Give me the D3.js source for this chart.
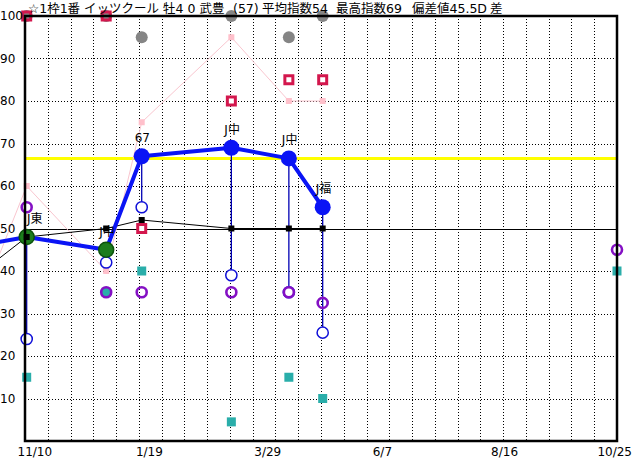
<!DOCTYPE html>
<html><head><meta charset="utf-8">
<script src="https://cdn.jsdelivr.net/npm/d3@7"></script>
<style>body{margin:0;background:#fff}svg{display:block}</style>
</head><body>
<svg id="c" width="632" height="460"></svg>
<script>
// ---------- data ----------
const titleParts = ["☆1枠1番 イッツクール 牡4 0 武豊", "(57)", "平均指数54", "最高指数69", "偏差値45.5D", "差"];
const titleX = [28, 233, 262, 336, 412, 490];
const raceDates = ["2023-10-21", "2023-11-11", "2023-12-28", "2024-01-18", "2024-03-11", "2024-04-14", "2024-05-04"];
const raceLabels = [null, "J東", "J中", "67", "J中", "J中", "J福"];
const courseType = [null, "芝", "芝", "ダ", "ダ", "ダ", "ダ"];
const indexValues = [46.5, 48, 45, 67, 69, 66.5, 55];
const baseValues = [41.5, 48, 50, 52, 50, 50, 50];
const pinkValues = [39, 60, 40, 75, 95, 80, 80];
const redValues = [null, 100, 100, 50, 80, 85, 85];
const greyValues = [null, 100, 100, 95, 100, 95, 100];
const ringValues = [null, 24, 42, 55, 39, 35, 25.5];
const purpleValues = [null, 55, 35, 35, 35, 35, 32.5];
const tealValues = [null, 15, 35, 40, 4.5, 15, 10];
const todayDate = "2024-10-25";
const todayPurple = 45;
const todayTeal = 40;
const refLevel = 66.5;
const midLevel = 50;
const yTicks = [10, 20, 30, 40, 50, 60, 70, 80, 90, 100];
const xTickDates = ["2023-11-10", "2024-01-19", "2024-03-29", "2024-06-07", "2024-08-16", "2024-10-25"];
const xTickLabels = ["11/10", "1/19", "3/29", "6/7", "8/16", "10/25"];
const gridDivisions = 26;

// ---------- setup ----------
const W = 632, H = 460;
const L = 25, R = 617, T = 16, B = 441;
const parse = d3.timeParse("%Y-%m-%d");
const dates = raceDates.map(parse);
const x = d3.scaleTime().domain([parse(xTickDates[0]), parse(xTickDates[xTickDates.length - 1])]).range([L, R]);
const y = d3.scaleLinear().domain([0, 100]).range([B, T]);
const gx = d3.scaleLinear().domain([0, gridDivisions]).range([L, R]);
const mainColor = d3.scaleOrdinal().domain(["芝", "ダ"]).range(["#1c7c1c", "#0a14f5"]);
const svg = d3.select("#c");
svg.append("rect").attr("width", W).attr("height", H).attr("fill", "#fff");
const idx = d3.range(raceDates.length);
const drawn = idx.filter(i => i > 0);

// grid
const grid = svg.append("g").attr("stroke", "#000").attr("stroke-width", 1).attr("stroke-dasharray", "1,2").attr("shape-rendering", "crispEdges");
grid.selectAll("line.h").data(yTicks.filter(v => v !== 100 && v !== midLevel)).join("line")
  .attr("x1", L).attr("x2", R).attr("y1", d => Math.round(y(d)) + 0.5).attr("y2", d => Math.round(y(d)) + 0.5);
grid.selectAll("line.v").data(d3.range(1, gridDivisions)).join("line")
  .attr("y1", T).attr("y2", B).attr("x1", d => Math.round(gx(d)) + 0.5).attr("x2", d => Math.round(gx(d)) + 0.5);

// 50 line and reference line
svg.append("line").attr("x1", L).attr("x2", R).attr("y1", Math.round(y(midLevel)) + 0.5).attr("y2", Math.round(y(midLevel)) + 0.5)
  .attr("stroke", "#000").attr("stroke-width", 1);
svg.append("line").attr("x1", L).attr("x2", R).attr("y1", y(refLevel)).attr("y2", y(refLevel))
  .attr("stroke", "#ffff00").attr("stroke-width", 3);

// pink series
svg.append("path").datum(idx).attr("fill", "none").attr("stroke", "#f9c6cf").attr("stroke-width", 1)
  .attr("d", d3.line().x(i => x(dates[i])).y(i => y(pinkValues[i])));
svg.selectAll("rect.pink").data(drawn).join("rect").attr("class", "pink")
  .attr("x", i => x(dates[i]) - 3).attr("y", i => y(pinkValues[i]) - 3).attr("width", 6).attr("height", 6).attr("fill", "#ffc0cb");

// base (black) line
svg.append("path").datum(idx).attr("fill", "none").attr("stroke", "#000").attr("stroke-width", 1)
  .attr("d", d3.line().x(i => x(dates[i])).y(i => y(baseValues[i])));

// grey circles
svg.selectAll("circle.grey").data(drawn.filter(i => greyValues[i] != null)).join("circle")
  .attr("cx", i => x(dates[i])).attr("cy", i => y(greyValues[i])).attr("r", 6).attr("fill", "#858585");

// red squares
const redG = svg.selectAll("g.red").data(drawn.filter(i => redValues[i] != null)).join("g")
  .attr("transform", i => `translate(${x(dates[i])},${y(redValues[i])})`);
redG.append("rect").attr("x", -5.5).attr("y", -5.5).attr("width", 11).attr("height", 11).attr("fill", "#d3174d");
redG.append("rect").attr("x", -2.5).attr("y", -2.5).attr("width", 5).attr("height", 5)
  .attr("fill", i => greyValues[i] === redValues[i] ? "#8a8a8a" : "#fff");

// vertical drop lines
svg.selectAll("line.drop").data(drawn).join("line")
  .attr("x1", i => x(dates[i])).attr("x2", i => x(dates[i]))
  .attr("y1", i => y(indexValues[i])).attr("y2", i => y(ringValues[i]))
  .attr("stroke", "#0000b4").attr("stroke-width", 1.3);

// teal squares
const tealIdx = drawn.map(i => ({d: dates[i], v: tealValues[i]})).concat([{d: parse(todayDate), v: todayTeal}]);
svg.selectAll("rect.teal").data(tealIdx).join("rect")
  .attr("x", d => x(d.d) - 4.5).attr("y", d => y(d.v) - 4.5).attr("width", 9).attr("height", 9).attr("fill", "#2aaeaa");

// blue rings
svg.selectAll("circle.ring").data(drawn).join("circle")
  .attr("cx", i => x(dates[i])).attr("cy", i => y(ringValues[i])).attr("r", 5.6)
  .attr("fill", "#fff").attr("stroke", "#1010d8").attr("stroke-width", 1.5);

// purple circles
const purpleIdx = drawn.map(i => ({d: dates[i], v: purpleValues[i]})).concat([{d: parse(todayDate), v: todayPurple}]);
svg.selectAll("circle.purple").data(purpleIdx).join("circle")
  .attr("cx", d => x(d.d)).attr("cy", d => y(d.v)).attr("r", 5)
  .attr("fill", "none").attr("stroke", "#8410c4").attr("stroke-width", 2.6);

// main index line
svg.append("path").datum(idx).attr("fill", "none").attr("stroke", "#0a14f5").attr("stroke-width", 4)
  .attr("stroke-linejoin", "round")
  .attr("d", d3.line().x(i => x(dates[i])).y(i => y(indexValues[i])));

// main circles
svg.selectAll("circle.main").data(drawn).join("circle")
  .attr("cx", i => x(dates[i])).attr("cy", i => y(indexValues[i]))
  .attr("r", i => courseType[i] === "芝" ? 7.5 : 8)
  .attr("fill", i => mainColor(courseType[i]))
  .attr("stroke", i => courseType[i] === "芝" ? "#0c520c" : "none").attr("stroke-width", 1.5);

// black squares
svg.selectAll("rect.base").data(drawn).join("rect")
  .attr("x", i => x(dates[i]) - 3).attr("y", i => y(baseValues[i]) - 3).attr("width", 6).attr("height", 6).attr("fill", "#000");

// frame
svg.append("rect").attr("x", L).attr("y", T).attr("width", R - L).attr("height", B - T)
  .attr("fill", "none").attr("stroke", "#000").attr("stroke-width", 2.5);

// race labels (drawn over the frame)
svg.selectAll("text.lab").data(drawn).join("text")
  .attr("x", i => Math.max(x(dates[i]) - 7, L + 2)).attr("y", i => y(indexValues[i]) - 14)
  .attr("text-anchor", "start").attr("font-family", "DejaVu Sans, 'Noto Sans CJK JP'").attr("font-size", 12)
  .attr("fill", "#000").text(i => raceLabels[i]);

// y axis
const ya = svg.append("g").attr("transform", `translate(${L},0)`)
  .call(d3.axisLeft(y).tickValues(yTicks).tickSize(0));
ya.select(".domain").remove();
ya.attr("font-family", "DejaVu Sans").attr("font-size", 12);
ya.selectAll("text").attr("x", -L).attr("text-anchor", "start").attr("fill", "#000");

// x axis
const xa = svg.append("g").attr("transform", `translate(0,${B})`)
  .call(d3.axisBottom(x).tickValues(xTickDates.map(parse)).tickFormat((d, i) => xTickLabels[i]).tickSize(0));
xa.select(".domain").remove();
xa.attr("font-family", "DejaVu Sans").attr("font-size", 12);
xa.selectAll("text").attr("x", -8).attr("y", 15).attr("dy", 0).attr("text-anchor", "start").attr("fill", "#000")
  .each(function() {
    const t = d3.select(this);
    const tx = +d3.select(this.parentNode).attr("transform").match(/translate\(([-\d.]+)/)[1];
    const w = this.getComputedTextLength();
    if (tx - 8 + w > W) t.attr("x", W - w - tx);
  });

// title
svg.selectAll("text.title").data(titleParts).join("text")
  .attr("x", (d, i) => titleX[i]).attr("y", 12.5)
  .attr("font-family", "DejaVu Sans, 'Noto Sans CJK JP'").attr("font-size", 12.5).attr("fill", "#000")
  .text(d => d);
</script>
</body></html>
